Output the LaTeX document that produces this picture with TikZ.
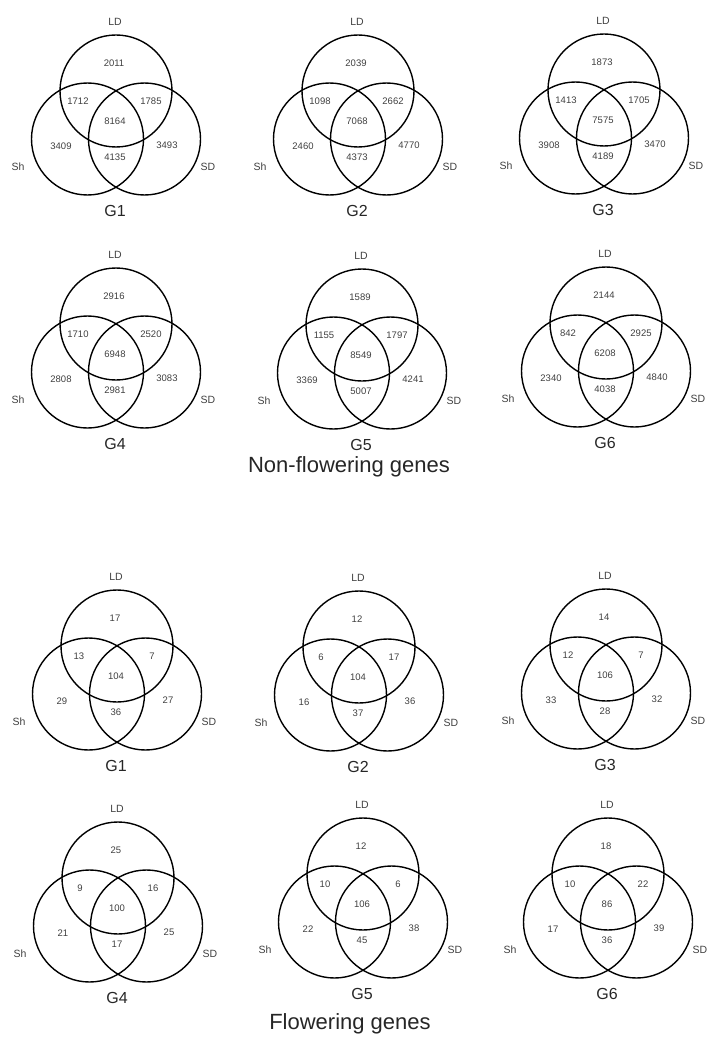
\documentclass[tikz,border=0pt]{standalone}
\usepackage{fontspec}
\setmainfont{Liberation Sans}
\usetikzlibrary{positioning}

\begin{document}
\begin{tikzpicture}[
    x=1pt, y=-1pt,
    ring/.style={draw, line width=1.4pt},
    num/.style={font=\fontsize{9.5}{11}\selectfont, text=black!75, inner sep=0pt},
    setname/.style={font=\fontsize{10.5}{12}\selectfont, text=black!75, inner sep=0pt},
    grp/.style={font=\fontsize{16}{18}\selectfont, text=black!85, inner sep=0pt},
    heading/.style={font=\fontsize{22}{25}\selectfont, text=black!85, inner sep=0pt}
]
    \useasboundingbox (0,0) rectangle (710,1046);
    % one venn per group: LD centre, name, then LD, LD-Sh, LD-SD, all, Sh, SD, Sh-SD
    \foreach \i/\cx/\cy/\g/\na/\nb/\nc/\nd/\ne/\nf/\ng in {
        1/116/91/G1/2011/1712/1785/8164/3409/3493/4135,
        2/358/91/G2/2039/1098/2662/7068/2460/4770/4373,
        3/604/90/G3/1873/1413/1705/7575/3908/3470/4189,
        4/116/324/G4/2916/1710/2520/6948/2808/3083/2981,
        5/362/325/G5/1589/1155/1797/8549/3369/4241/5007,
        6/606/323/G6/2144/842/2925/6208/2340/4840/4038,
        7/117/646/G1/17/13/7/104/29/27/36,
        8/359/647/G2/12/6/17/104/16/36/37,
        9/606/645/G3/14/12/7/106/33/32/28,
        10/118/878/G4/25/9/16/100/21/25/17,
        11/363/874/G5/12/10/6/106/22/38/45,
        12/608/874/G6/18/10/22/86/17/39/36}
    {
        \coordinate (ld\i) at (\cx,\cy);
        \coordinate (sh\i) at ({\cx-28.5},{\cy+48});
        \coordinate (sd\i) at ({\cx+28.5},{\cy+48});
        \draw[ring] (ld\i) circle (56pt);
        \draw[ring] (sh\i) circle (56pt);
        \draw[ring] (sd\i) circle (56pt);
        \node[setname] (ldname\i) at ({\cx-1},{\cy-69}) {LD};
        \node[setname] (shname\i) at ({\cx-98},{\cy+76}) {Sh};
        \node[setname] (sdname\i) at ({\cx+92},{\cy+76}) {SD};
        \node[grp] (grp\i) at ({\cx-1},{\cy+120}) {\g};
        \node[num] (a\i) at ({\cx-2},{\cy-28}) {\na};
        \node[num] (b\i) at ({\cx-38},{\cy+10}) {\nb};
        \node[num] (c\i) at ({\cx+35},{\cy+10}) {\nc};
        \node[num] (d\i) at ({\cx-1},{\cy+30}) {\nd};
        \node[num] (e\i) at ({\cx-55},{\cy+55}) {\ne};
        \node[num] (f\i) at ({\cx+51},{\cy+54}) {\nf};
        \node[num] (g\i) at ({\cx-1},{\cy+66}) {\ng};
    }
    \node[heading] (nonflower) at (349,467) {Non-flowering genes};
    \node[heading] (flower) at (350,1024) {Flowering genes};
\end{tikzpicture}
\end{document}
